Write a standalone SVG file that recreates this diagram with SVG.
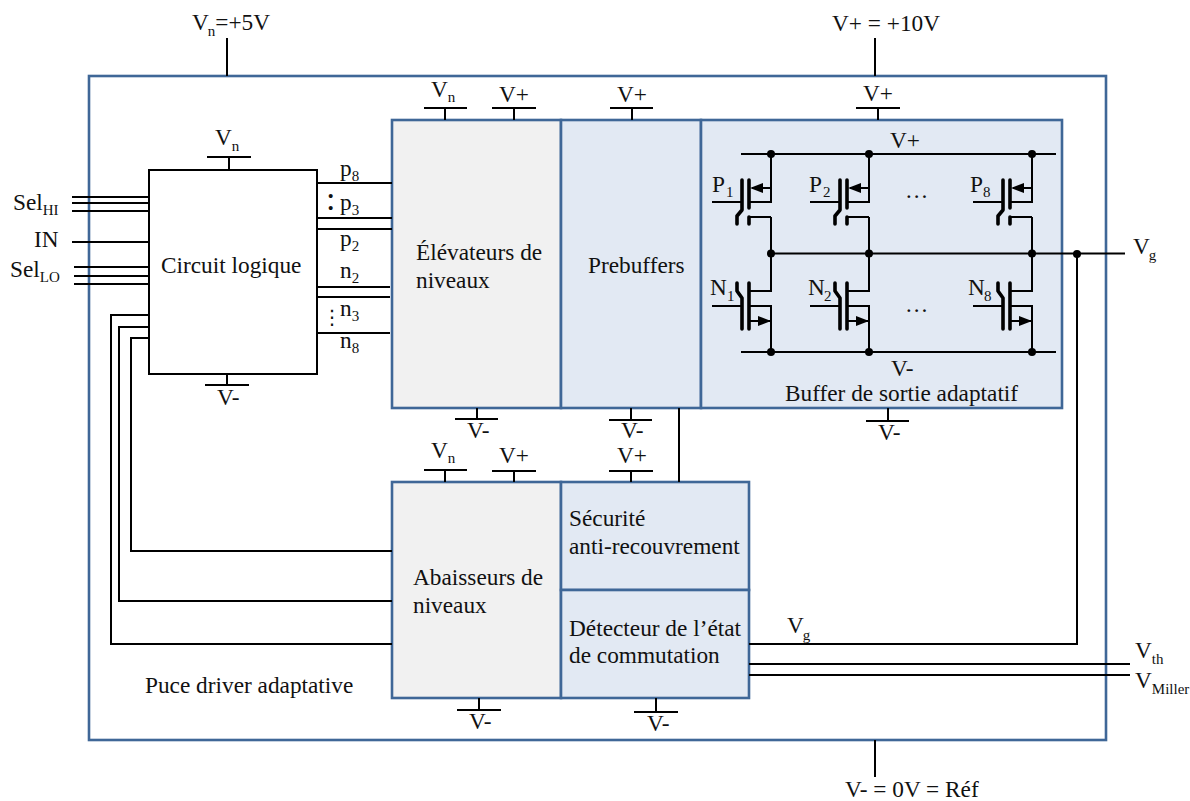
<svg xmlns="http://www.w3.org/2000/svg" width="1190" height="801" viewBox="0 0 1190 801">
<style>
text{font-family:"Liberation Serif","Times New Roman",serif;font-size:23.3px;fill:#111}
.s{font-size:15px}
.b{stroke:#3f6797;stroke-width:2.6}
.f{fill:none}
.g{fill:#f1f1f1}
.h{fill:#e2e9f3}
.l{fill:none;stroke:#000;stroke-width:2}
.t{fill:none;stroke:#000;stroke-width:3.6;stroke-linecap:round;stroke-linejoin:round}
</style>
<defs>
<g id="pm"><path class="l" d="M-30 0H0M29 -48V0H7M29 15H7M29 15V51M10 -14H29"/><path class="t" d="M0 -22V8L-5 14V22M7 -22V6M7 15V22"/><path fill="#000" d="M8 -14L21 -19V-9Z"/></g>
<g id="nm"><path class="l" d="M-30 0H0M7 0H29V46M7 -15H29V-53M7 15H29"/><path class="t" d="M0 23V-8L-5 -15V-23M7 -23V23"/><path fill="#000" d="M29 15L16 10V20Z"/></g>
</defs>
<rect x="0" y="0" width="1190" height="801" fill="#fff"/>
<g id="chip"><rect class="b f" x="89" y="76" width="1017" height="664"/></g>
<g id="elevateurs"><rect class="b g" x="392" y="120" width="169" height="288"/><text x="416" y="260">Élévateurs de</text><text x="416" y="288">niveaux</text></g>
<g id="prebuffers"><rect class="b h" x="561" y="120" width="140" height="288"/><text x="588" y="273">Prebuffers</text></g>
<g id="buffer"><rect class="b h" x="701" y="120" width="361" height="288"/><text x="785" y="401">Buffer de sortie adaptatif</text></g>
<g id="abaisseurs"><rect class="b g" x="392" y="482" width="169" height="216"/><text x="413" y="585">Abaisseurs de</text><text x="413" y="613">niveaux</text></g>
<g id="securite"><rect class="b h" x="561" y="482" width="188" height="108"/><text x="569" y="526">Sécurité</text><text x="569" y="554">anti-recouvrement</text></g>
<g id="detecteur"><rect class="b h" x="561" y="590" width="188" height="108"/><text x="569" y="636">Détecteur de l’état</text><text x="569" y="663">de commutation</text></g>
<g id="logique"><rect x="149" y="170" width="168" height="204" fill="#fff" stroke="#000" stroke-width="2"/><text x="161" y="273">Circuit logique</text></g>
<g id="connectors">
<path class="l" d="M227 38V76M875 38V76M875 740V777M207 157H251M229 157V170M205 385H249M227 374V385M424 108H467M445 108V120M492 108H536M514 108V120M610 108H653M632 108V120M856 108H900M878 108V120M455 419H498M477 408V419M609 420H652M631 408V420M866 421H909M888 408V421M424 470H467M445 470V482M492 471H536M514 471V482M609 471H653M631 471V482M457 710H501M479 698V710M634 712H678M656 698V712"/>
<path class="l" d="M72 197H149M72 203H149M72 211H149M72 242H149M74 267H149M74 276H149M74 284H149M317 183H392M317 218H392M317 229H392M317 287H390M317 297H390M317 333H390"/>
<path class="l" d="M679 408V482M149 315H111V644H392M149 327H119V601H392M149 338H131V551H392M749 644H1077V254M749 664H1130M749 675H1130"/>
<path class="l" d="M741 154H1056M741 352H1056M771 253.500H1125"/>
<circle cx="771" cy="154" r="4"/><circle cx="869" cy="154" r="4"/><circle cx="1032" cy="154" r="4"/>
<circle cx="771" cy="253.500" r="4"/><circle cx="869" cy="253.500" r="4"/><circle cx="1032" cy="253.500" r="4"/><circle cx="1077" cy="254" r="4"/>
<circle cx="771" cy="352" r="4"/><circle cx="869" cy="352" r="4"/><circle cx="1032" cy="352" r="4"/>
</g>
<g id="P1"><use href="#pm" x="742" y="202"/><text x="712" y="192">P</text><text class="s" x="726" y="197">1</text></g>
<g id="P2"><use href="#pm" x="840" y="202"/><text x="809" y="192">P</text><text class="s" x="823" y="197">2</text></g>
<g id="P8"><use href="#pm" x="1003" y="202"/><text x="970" y="192">P</text><text class="s" x="983" y="197">8</text></g>
<g id="N1"><use href="#nm" x="742" y="306"/><text x="710" y="295">N</text><text class="s" x="727" y="301">1</text></g>
<g id="N2"><use href="#nm" x="840" y="306"/><text x="808" y="295">N</text><text class="s" x="824" y="301">2</text></g>
<g id="N8"><use href="#nm" x="1003" y="306"/><text x="968" y="295">N</text><text class="s" x="984" y="301">8</text></g>
<g id="labels">
<text x="192" y="30">V<tspan class="s" dx="-1" dy="6">n</tspan><tspan dy="-6">=+5V</tspan></text>
<text x="832" y="31">V+ = +10V</text>
<text x="845" y="797">V- = 0V = Réf</text>
<text x="215" y="145">V<tspan class="s" dy="6">n</tspan></text>
<text x="217" y="405">V-</text>
<text x="431" y="97">V<tspan class="s" dy="5">n</tspan></text>
<text x="499" y="102">V+</text><text x="617" y="102">V+</text><text x="863" y="101">V+</text>
<text x="890" y="148">V+</text><text x="891" y="376">V-</text><text x="905" y="198">…</text><text x="905" y="312">…</text>
<text x="467" y="438">V-</text><text x="621" y="438">V-</text><text x="878" y="440">V-</text>
<text x="431" y="458">V<tspan class="s" dy="5">n</tspan></text>
<text x="499" y="463">V+</text><text x="617" y="463">V+</text>
<text x="469" y="729">V-</text><text x="647" y="731">V-</text>
<text x="145" y="693">Puce driver adaptative</text>
<text x="13" y="210">Sel<tspan class="s" dy="5">HI</tspan></text>
<text x="34" y="247">IN</text>
<text x="10" y="277">Sel<tspan class="s" dy="5">LO</tspan></text>
<text x="340" y="176">p<tspan class="s" dy="5">8</tspan></text>
<text x="326" y="210" style="font-size:34px">:</text><text x="340" y="210">p<tspan class="s" dy="5">3</tspan></text>
<text x="340" y="246">p<tspan class="s" dy="5">2</tspan></text>
<text x="340" y="278">n<tspan class="s" dy="5">2</tspan></text>
<text x="322" y="324" style="font-family:'DejaVu Sans',sans-serif;font-size:20px">⋮</text><text x="340" y="316">n<tspan class="s" dy="5">3</tspan></text>
<text x="340" y="348">n<tspan class="s" dy="5">8</tspan></text>
<text x="1133" y="254">V<tspan class="s" dx="-1" dy="6">g</tspan></text>
<text x="787" y="633">V<tspan class="s" dx="-1" dy="7">g</tspan></text>
<text x="1135" y="658">V<tspan class="s" dy="6">th</tspan></text>
<text x="1135" y="688">V<tspan class="s" dy="6">Miller</tspan></text>
</g>
</svg>
